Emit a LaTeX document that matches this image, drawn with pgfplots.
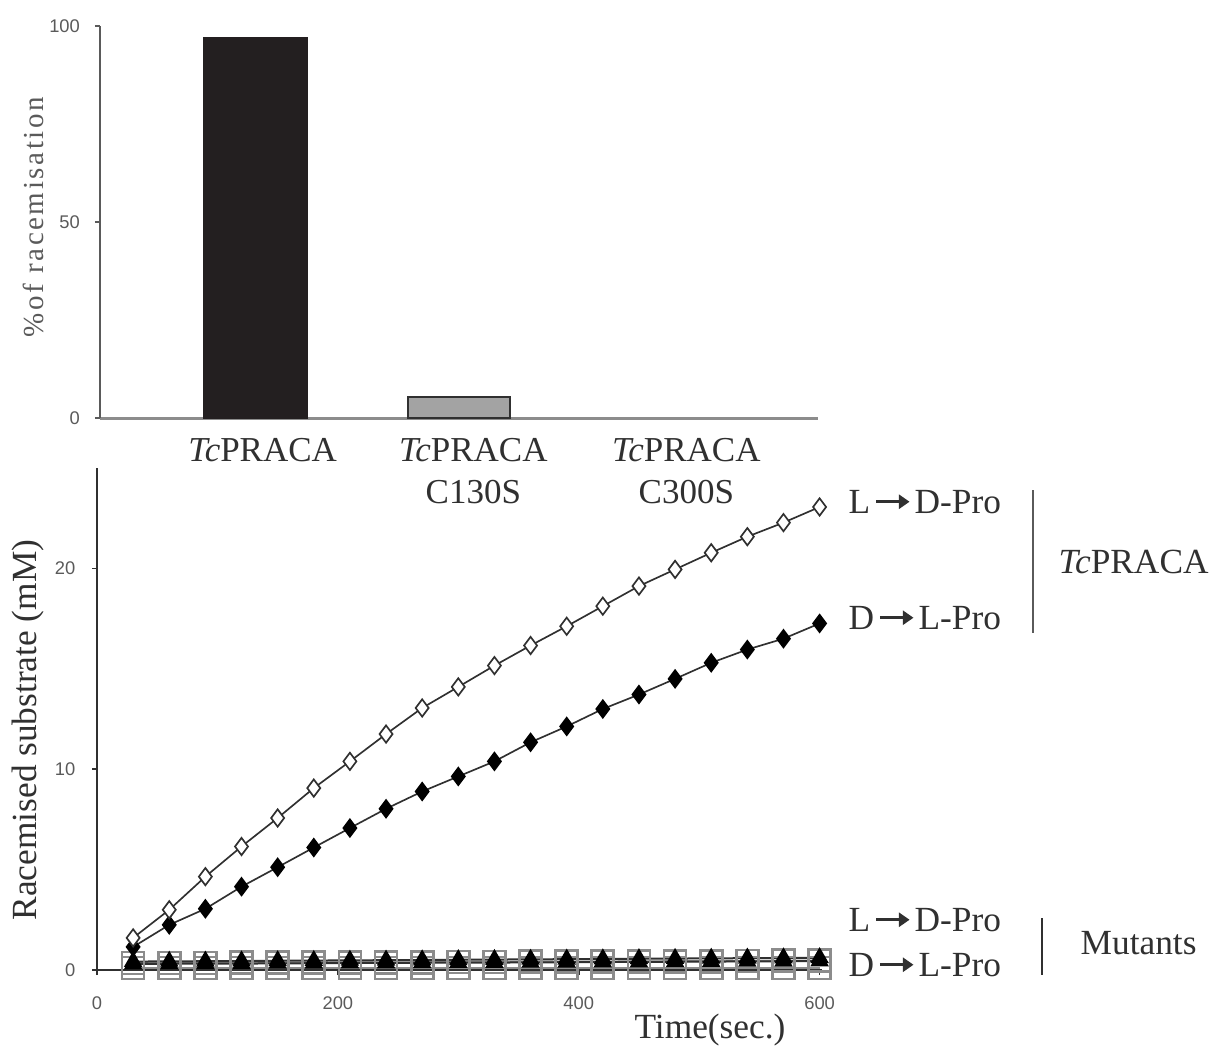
\documentclass[border=0pt]{standalone}
\usepackage{fontspec}
\setmainfont{Liberation Serif}
\setsansfont{Liberation Sans}
\usepackage{pgfplots}
\pgfplotsset{compat=1.18}
\usetikzlibrary{arrows.meta}
\definecolor{txt}{HTML}{303030}
\definecolor{tk}{HTML}{5A5A5A}
\definecolor{barA}{HTML}{231F20}
\definecolor{barB}{HTML}{A3A3A3}
\definecolor{sq}{HTML}{8C8C8C}
\newcommand{\ar}{\hspace{0.12em}\tikz[baseline=0pt]\draw[txt, line width=0.9pt, -{Triangle[length=3.2pt,width=4.2pt]}] (0,0.33em) -- (0.95em,0.33em);\hspace{0.1em}}
\begin{document}
\begin{tikzpicture}
\path[use as bounding box] (-29.1pt,-22.5pt) rectangle (339pt,291pt);
% ---------- top bar chart ----------
\begin{axis}[at={(0.9pt,165.6pt)}, anchor=south west, scale only axis,
  width=215.4pt, height=117.6pt,
  xmin=0, xmax=3, ymin=0, ymax=100,
  axis x line=bottom, axis y line=left, axis line style={-},
  x axis line style={draw=sq, line width=0.9pt},
  y axis line style={draw=tk, line width=0.5pt},
  ytick={0,50,100}, tick align=outside, major tick length=1.5pt,
  y tick style={draw=tk, line width=0.5pt},
  xtick={0.68,1.56,2.45},
  xticklabels={{\textit{Tc}PRACA},{\textit{Tc}PRACA\\C130S},{\textit{Tc}PRACA\\C300S}},
  x tick style={draw=none},
  xticklabel style={align=center, font=\fontsize{10.5}{12.6}\selectfont, text=txt, yshift=-1pt},
  yticklabel style={font=\fontsize{5.5}{6}\sffamily, text=tk, xshift=-1pt},
  /pgf/number format/assume math mode=true,
  clip=false]
\addplot[ybar, bar shift=0pt, bar width=31pt, fill=barA, draw=barA] coordinates {(0.65,97)};
\addplot[ybar, bar shift=0pt, bar width=30.5pt, fill=barB, draw=txt, line width=0.6pt] coordinates {(1.5,5.4)};
\end{axis}
\node[rotate=90, text=tk, font=\fontsize{8.7}{10}\selectfont\addfontfeature{LetterSpace=9}] at (-19.2pt,225.9pt) {\%of racemisation};
% ---------- bottom time course ----------
\begin{axis}[at={(0pt,0pt)}, anchor=south west, scale only axis,
  width=217.5pt, height=150.6pt,
  xmin=0, xmax=602, ymin=0, ymax=25,
  axis x line=bottom, axis y line=left, axis line style={-, draw=txt, line width=0.6pt},
  xtick={0,200,400,600}, ytick={0,10,20},
  tick align=outside, major tick length=1.5pt,
  tick style={draw=txt, line width=0.5pt},
  ticklabel style={font=\fontsize{5.5}{6}\sffamily, text=tk},
  xticklabel style={yshift=-3pt}, yticklabel style={xshift=-1.5pt},
  /pgf/number format/assume math mode=true,
  clip=false]
% mutants
\addplot[draw=sq, line width=0.6pt, mark=square, mark size=3.3pt, mark options={draw=sq, line width=0.8pt}] coordinates {
(30,0.1)(60,0.1)(90,0.1)(120,0.1)(150,0.1)(180,0.1)(210,0.1)(240,0.1)(270,0.1)(300,0.1)
(330,0.1)(360,0.1)(390,0.1)(420,0.1)(450,0.1)(480,0.1)(510,0.1)(540,0.1)(570,0.1)(600,0.1)};
\addplot[draw=sq, line width=0.6pt, mark=square, mark size=3.3pt, mark options={draw=sq, line width=0.8pt}] coordinates {
(30,0.35)(60,0.35)(90,0.35)(120,0.36)(150,0.36)(180,0.37)(210,0.38)(240,0.38)(270,0.39)(300,0.40)
(330,0.40)(360,0.41)(390,0.42)(420,0.42)(450,0.43)(480,0.44)(510,0.44)(540,0.45)(570,0.46)(600,0.47)};
\addplot[draw=txt, line width=0.6pt, mark=triangle*, mark size=2.6pt, mark options={fill=black, draw=black}] coordinates {
(30,0.30)(60,0.31)(90,0.32)(120,0.32)(150,0.33)(180,0.34)(210,0.35)(240,0.35)(270,0.36)(300,0.37)
(330,0.37)(360,0.38)(390,0.39)(420,0.40)(450,0.40)(480,0.41)(510,0.42)(540,0.43)(570,0.44)(600,0.45)};
\addplot[draw=txt, line width=0.6pt, mark=triangle*, mark size=2.6pt, mark options={fill=black, draw=black}] coordinates {
(30,0.42)(60,0.43)(90,0.44)(120,0.45)(150,0.46)(180,0.47)(210,0.48)(240,0.49)(270,0.50)(300,0.51)
(330,0.52)(360,0.53)(390,0.54)(420,0.55)(450,0.56)(480,0.57)(510,0.58)(540,0.59)(570,0.60)(600,0.61)};
% TcPRACA D->L (filled diamonds)
\addplot[draw=txt, line width=0.5pt, mark=diamond*, mark size=2.6pt, mark options={fill=black, draw=black}] coordinates {
(30,1.15)(60,2.25)(90,3.05)(120,4.15)(150,5.12)(180,6.10)(210,7.07)(240,8.03)(270,8.89)(300,9.64)
(330,10.39)(360,11.34)(390,12.13)(420,13.0)(450,13.72)(480,14.5)(510,15.3)(540,15.96)(570,16.5)(600,17.26)};
% TcPRACA L->D (open diamonds)
\addplot[draw=txt, line width=0.5pt, mark=diamond*, mark size=2.6pt, mark options={fill=white, draw=txt, line width=0.5pt}] coordinates {
(30,1.6)(60,3.0)(90,4.65)(120,6.15)(150,7.57)(180,9.06)(210,10.39)(240,11.75)(270,13.05)(300,14.1)
(330,15.16)(360,16.16)(390,17.12)(420,18.12)(450,19.12)(480,19.95)(510,20.78)(540,21.58)(570,22.28)(600,23.06)};
\end{axis}
\node[rotate=90, text=txt, font=\fontsize{10.6}{12}\selectfont] at (-20.7pt,72pt) {Racemised substrate (mM)};
\node[text=txt, font=\fontsize{10.6}{12}\selectfont] at (183.9pt,-18pt) {Time(sec.)};
% annotations
\begin{scope}[every node/.style={text=txt, font=\fontsize{10.6}{12}\selectfont, inner sep=0pt}]
\node[anchor=west] at (225.3pt,140.4pt) {L\ar D-Pro};
\node[anchor=west] at (225.3pt,105.6pt) {D\ar L-Pro};
\node[anchor=west] at (288.3pt,122.4pt) {\textit{Tc}PRACA};
\node[anchor=west] at (225.3pt,15pt) {L\ar D-Pro};
\node[anchor=west] at (225.3pt,1.5pt) {D\ar L-Pro};
\node[anchor=west] at (294.9pt,8.1pt) {Mutants};
\end{scope}
\draw[tk, line width=0.6pt] (280.8pt,144pt) -- (280.8pt,101.1pt);
\draw[txt, line width=0.5pt] (283.5pt,15.6pt) -- (283.5pt,-1.5pt);
\end{tikzpicture}
\end{document}
